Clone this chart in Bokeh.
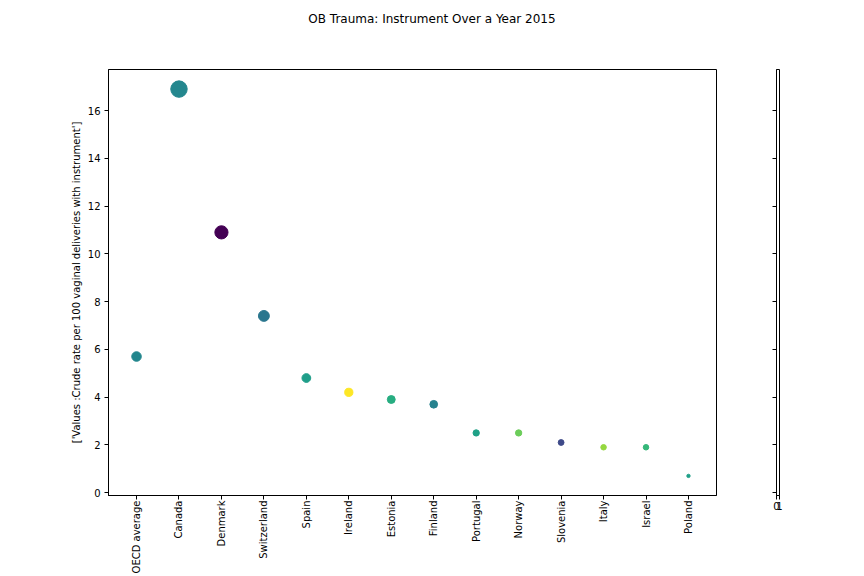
import math
from bokeh.plotting import figure
from bokeh.layouts import row, column
from bokeh.models import Range1d, FixedTicker, ColumnDataSource, Div
from bokeh.embed import file_html
from bokeh.resources import INLINE

title_text = "OB Trauma: Instrument Over a Year 2015"
y_label = "['Values :Crude rate per 100 vaginal deliveries with instrument']"
countries = ["OECD average", "Canada", "Denmark", "Switzerland", "Spain", "Ireland",
             "Estonia", "Finland", "Portugal", "Norway", "Slovenia", "Italy", "Israel", "Poland"]
values = [5.7, 16.9, 10.9, 7.4, 4.8, 4.2, 3.9, 3.7, 2.5, 2.5, 2.1, 1.9, 1.9, 0.7]
point_colors = ["#22868d", "#24878e", "#440154", "#2a768e", "#1f9e89", "#fde725", "#27ad81",
                "#26828e", "#1fa187", "#6ccd5a", "#3e4a89", "#95d840", "#35b779", "#1fa088"]
y_ticks = [0, 2, 4, 6, 8, 10, 12, 14, 16]
cbar_ticks = [0, 1]

FONT = "DejaVu Sans"
Y0, Y1 = -0.12, 17.72
n = len(countries)
BOTTOM = 76

src = ColumnDataSource(dict(
    x=list(range(n)), y=values, color=point_colors,
    size=[4.0 * math.sqrt(v) for v in values],
))


def style_axes(fig):
    fig.grid.visible = False
    fig.outline_line_color = "black"
    fig.outline_line_width = 1
    for ax in (fig.xaxis, fig.yaxis):
        ax.axis_line_color = "black"
        ax.major_tick_line_color = "black"
        ax.major_tick_in = 0
        ax.major_tick_out = 4
        ax.minor_tick_line_color = None
        ax.major_label_text_font = FONT
        ax.major_label_text_font_size = "10px"
        ax.major_label_text_color = "black"


p = figure(width=740, height=536, output_backend="svg", toolbar_location=None,
           x_range=Range1d(-0.66, n - 1 + 0.66), y_range=Range1d(Y0, Y1),
           min_border_left=108, min_border_right=24, min_border_top=29, min_border_bottom=BOTTOM)
style_axes(p)
p.xaxis.ticker = FixedTicker(ticks=list(range(n)))
p.xaxis.major_label_overrides = {i: c for i, c in enumerate(countries)}
p.xaxis.major_label_orientation = math.pi / 2
p.xaxis.major_label_standoff = 1
p.yaxis.ticker = FixedTicker(ticks=y_ticks)
p.yaxis.major_label_standoff = 4
p.yaxis.axis_label = y_label
p.yaxis.axis_label_text_font = FONT
p.yaxis.axis_label_text_font_size = "10px"
p.yaxis.axis_label_text_font_style = "normal"
p.yaxis.axis_label_text_color = "black"
p.yaxis.axis_label_standoff = 3

p.scatter("x", "y", size="size", fill_color="color", line_color="color", source=src)

q = figure(width=60, height=536, output_backend="svg", toolbar_location=None,
           x_range=Range1d(0, 1), y_range=Range1d(Y0, Y1),
           min_border_left=36, min_border_right=21, min_border_top=29, min_border_bottom=BOTTOM)
style_axes(q)
q.yaxis.ticker = FixedTicker(ticks=y_ticks)
q.yaxis.major_label_overrides = {t: "" for t in y_ticks}
q.xaxis.ticker = FixedTicker(ticks=cbar_ticks)
q.xaxis.major_label_standoff = 2

title = Div(text=f'<div style="width:864px;text-align:center;font-family:\'DejaVu Sans\';'
                 f'font-size:12px;color:black;padding-top:11px;">{title_text}</div>',
            width=864, height=40, margin=0)

layout = column(title, row(p, q))
open("out.html", "w").write(file_html(layout, INLINE))
